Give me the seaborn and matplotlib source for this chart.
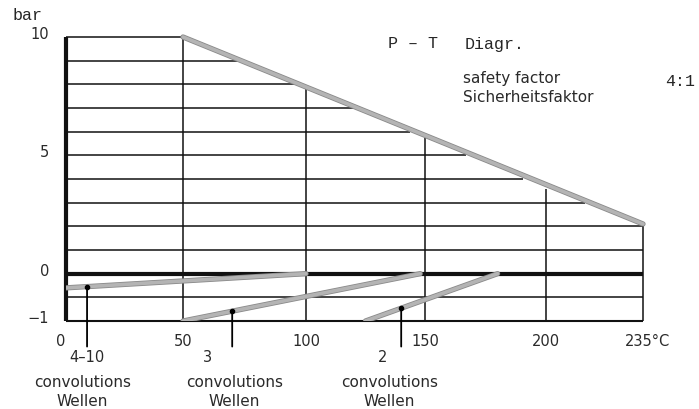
import matplotlib
matplotlib.use("Agg")
import matplotlib.pyplot as plt
import matplotlib.patheffects as pe
import matplotlib.transforms as mtransforms
import numpy as np
import pandas as pd
import seaborn as sns

# admissible pressure (bar) over temperature (degC), safety factor 4:1
pt_temps = [0, 50, 235]
pt_pressures = [10, 10, 2.1]

# vacuum limits for the three bellows types
vac_labels = ["4\u201310", "3", "2"]
vac_temps = [[0, 100], [50, 148], [125, 180]]
vac_pressures = [[-0.3, 0.0], [-1.0, 0.0], [-1.0, 0.0]]
vac_marker_temps = [9, 70, 140]

x_ticks = [0, 50, 100, 150, 200, 235]
x_ticklabels = ["0", "50", "100", "150", "200", "235\u00b0C"]
y_ticks = [-1, 0, 5, 10]
y_ticklabels = ["\u22121", "0", "5", "10"]
grid_temps = [50, 100, 150, 200]
grid_pressures = [-0.5, 1, 2, 3, 4, 5, 6, 7, 8, 9, 10]

MONO = "Liberation Mono"
SANS = "DejaVu Sans"
GRAY = "#b4b4b4"
TXT = "#2a2a2a"

# the drawing is not quite linear: last 35 degC and the vacuum band are stretched
x_br = [-100, 0, 50, 100, 150, 200, 235, 335]
x_px = [-234, 0, 117, 240, 359, 480, 577, 854]


def x_fwd(x):
    return np.interp(x, x_br, x_px)


def x_inv(x):
    return np.interp(x, x_px, x_br)


def y_fwd(y):
    y = np.asarray(y, dtype=float)
    return np.where(y < 0, 2 * y, y)


def y_inv(y):
    y = np.asarray(y, dtype=float)
    return np.where(y < 0, y / 2, y)


sns.set_style("white")
plt.rcParams["font.family"] = [SANS]

fig = plt.figure(figsize=(6.99, 4.09), dpi=100)
ax = fig.add_axes([66 / 699, 1 - 321 / 409, 577 / 699, 284 / 409])
ax.set_xscale("function", functions=(x_fwd, x_inv))
ax.set_yscale("function", functions=(y_fwd, y_inv))
ax.set_xlim(0, 235)
ax.set_ylim(-1, 10)
for s in ax.spines.values():
    s.set_visible(False)

# grid lines, cut off at the P-T limit line
t_end = pt_temps[-1]
for p in grid_pressures:
    if p >= pt_pressures[-1]:
        x_end = np.interp(p, pt_pressures[::-1], pt_temps[::-1])
        if p >= pt_pressures[0]:
            x_end = pt_temps[1]
    else:
        x_end = t_end
    ax.hlines(p, 0, x_end, color="#111111", lw=1.1, clip_on=False, zorder=2)
for t in grid_temps + [t_end]:
    ax.vlines(t, -1, np.interp(t, pt_temps, pt_pressures), color="#111111",
              lw=1.1, clip_on=False, zorder=2)

# axis frame
ax.vlines(0, -1, 10, color="#111111", lw=3.0, clip_on=False, zorder=3)
ax.hlines(0, 0, t_end, color="#111111", lw=3.0, clip_on=False, zorder=3)
ax.hlines(-1, 0, t_end, color="#111111", lw=1.5, clip_on=False, zorder=3)

gray_fx = [pe.Stroke(linewidth=3.8, foreground="#8a8a8a"), pe.Normal()]

# P-T limit line (sloped part)
pt_df = pd.DataFrame({"T": pt_temps[1:], "P": pt_pressures[1:]})
sns.lineplot(data=pt_df, x="T", y="P", ax=ax, color=GRAY, lw=2.6,
             path_effects=gray_fx, zorder=4, clip_on=False)

# vacuum lines with pointer dots
label_x = [(9, 7), (60, 71), (132, 135)]
tr = ax.get_xaxis_transform()
for i, lab in enumerate(vac_labels):
    df = pd.DataFrame({"T": vac_temps[i], "P": vac_pressures[i]})
    sns.lineplot(data=df, x="T", y="P", ax=ax, color=GRAY, lw=2.6,
                 path_effects=gray_fx, zorder=4)
    tm = vac_marker_temps[i]
    pm = np.interp(tm, vac_temps[i], vac_pressures[i])
    ax.plot([tm], [pm], "o", color="black", ms=3, zorder=6)
    ax.annotate("", xy=(tm, pm), xytext=(tm, -0.09), textcoords=tr,
                arrowprops=dict(arrowstyle="-", color="black", lw=1.3,
                                shrinkA=0, shrinkB=0), zorder=6)
    ax.text(label_x[i][0], -0.127, lab, transform=tr, ha="center", va="center",
            fontsize=10.5, color=TXT)
    ax.text(label_x[i][1], -0.218, "convolutions", transform=tr, ha="center",
            va="center", fontsize=11, color=TXT)
    ax.text(label_x[i][1], -0.285, "Wellen", transform=tr, ha="center",
            va="center", fontsize=11, color=TXT)

ax.set_xticks(x_ticks)
ax.set_xticklabels(x_ticklabels)
ax.set_yticks(y_ticks)
ax.set_yticklabels(y_ticklabels)
ax.minorticks_off()
ax.tick_params(axis="x", length=0, pad=9, labelsize=10.5, labelcolor=TXT)
ax.tick_params(axis="y", length=0, pad=12, labelsize=10.5, labelcolor=TXT)
ax.set_xlabel("")
ax.set_ylabel("")

# nudge tick labels the way they sit in the drawing
up = mtransforms.ScaledTranslation(0, 3 / 72, fig.dpi_scale_trans)
for lb in ax.get_yticklabels():
    lb.set_transform(lb.get_transform() + up)
xlabs = ax.get_xticklabels()
xlabs[0].set_transform(xlabs[0].get_transform()
                       + mtransforms.ScaledTranslation(-4 / 72, 0, fig.dpi_scale_trans))
xlabs[-1].set_transform(xlabs[-1].get_transform()
                        + mtransforms.ScaledTranslation(3 / 72, 0, fig.dpi_scale_trans))

fig.text(0.040, 0.961, "bar", family=MONO, fontsize=12, ha="center", va="center")
fig.text(388 / 699, 1 - 44 / 409, "P \u2013 T", family=MONO, fontsize=12,
         ha="left", va="center")
fig.text(465 / 699, 1 - 44 / 409, "Diagr.", family=MONO, fontsize=12,
         ha="left", va="center")
fig.text(463 / 699, 1 - 78 / 409, "safety factor", fontsize=11, ha="left",
         va="center", color=TXT)
fig.text(463 / 699, 1 - 98 / 409, "Sicherheitsfaktor", fontsize=11, ha="left",
         va="center", color=TXT)
fig.text(665 / 699, 1 - 82 / 409, "4:1", family=MONO, fontsize=12, ha="left",
         va="center")

fig.savefig("out.png", dpi=100, facecolor="white")
